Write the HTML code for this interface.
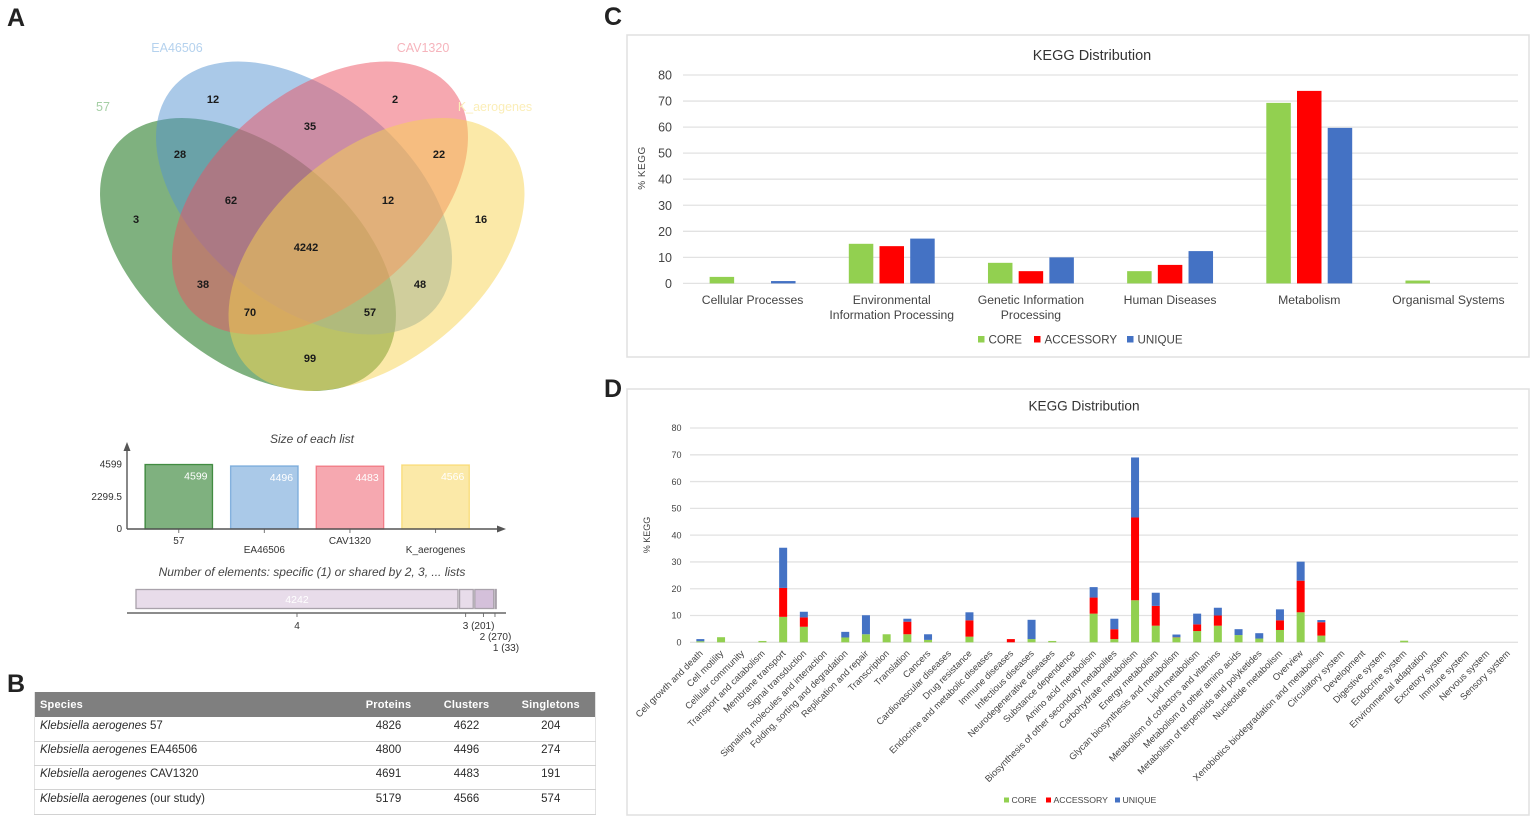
<!DOCTYPE html>
<html lang="en">
<head>
<meta charset="utf-8">
<title>Klebsiella aerogenes pangenome figure</title>
<style>
html,body{margin:0;padding:0;background:#fff;}
body{width:1535px;height:821px;overflow:hidden;position:relative;font-family:"Liberation Sans",sans-serif;}
svg{position:absolute;left:0;top:0;filter:blur(.35px);}
text{font-family:"Liberation Sans",sans-serif;}
#species-table{position:absolute;left:34px;top:692px;width:561px;height:122px;border-collapse:collapse;table-layout:fixed;font-size:11.5px;color:#2b2b2b;filter:blur(.35px);}
#species-table th{background:#7f7f7f;color:#fff;font-weight:bold;height:25px;padding:0;font-size:11px;vertical-align:middle;letter-spacing:.2px;}
#species-table td{height:24.3px;padding:0 0 6.5px 0;box-sizing:border-box;border-bottom:1.5px solid #d2d2d2;text-align:center;vertical-align:middle;}
#species-table th:first-child,#species-table td:first-child{text-align:left;padding-left:5px;}
#species-table{border-left:1px solid #e2e2e2;border-right:1px solid #e2e2e2;}
</style>
</head>
<body>
<svg id="fig" width="1535" height="821" viewBox="0 0 1535 821" xmlns="http://www.w3.org/2000/svg">
  <g font-weight="bold" font-size="25" fill="#222">
    <text x="7" y="26">A</text>
    <text x="7" y="692">B</text>
    <text x="604" y="25">C</text>
    <text x="604" y="397">D</text>
  </g>
  <g>
    <text x="103" y="111" font-size="12.5" text-anchor="middle" fill="#a5cfa5">57</text>
    <text x="177" y="52" font-size="12.5" text-anchor="middle" fill="#b5d2ee">EA46506</text>
    <text x="423" y="52" font-size="12.5" text-anchor="middle" fill="#f6b4bc">CAV1320</text>
    <ellipse cx="248" cy="254.5" rx="171.5" ry="105.4" transform="rotate(39.85 248 254.5)" fill="rgb(0,100,0)" fill-opacity=".5"/>
    <ellipse cx="304" cy="198" rx="171.5" ry="105.4" transform="rotate(39.85 304 198)" fill="rgb(85,147,209)" fill-opacity=".5"/>
    <ellipse cx="320" cy="198" rx="171.5" ry="105.4" transform="rotate(-39.85 320 198)" fill="rgb(237,81,97)" fill-opacity=".5"/>
    <ellipse cx="376.5" cy="254.5" rx="171.5" ry="105.4" transform="rotate(-39.85 376.5 254.5)" fill="rgb(247,211,81)" fill-opacity=".5"/>
    <text x="495" y="111" font-size="12.5" text-anchor="middle" fill="#fbeeb8">K_aerogenes</text>
    <g font-size="11" font-weight="bold" text-anchor="middle" fill="#1a1a1a">
      <text x="213" y="103">12</text>
      <text x="395" y="103">2</text>
      <text x="310" y="130">35</text>
      <text x="180" y="158">28</text>
      <text x="439" y="158">22</text>
      <text x="231" y="204">62</text>
      <text x="388" y="204">12</text>
      <text x="136" y="223">3</text>
      <text x="481" y="223">16</text>
      <text x="306" y="251">4242</text>
      <text x="203" y="288">38</text>
      <text x="420" y="288">48</text>
      <text x="250" y="316">70</text>
      <text x="370" y="316">57</text>
      <text x="310" y="362">99</text>
    </g>
  </g>
  <g id="list-size"></g>
  <g id="shared-count"></g>
  <rect x="627" y="35" width="902" height="322" fill="#fff" stroke="#e0e0e0" stroke-width="1.5"/>
  <g id="chart-c"></g>
  <rect x="627" y="389" width="902" height="426" fill="#fff" stroke="#e0e0e0" stroke-width="1.5"/>
  <g id="chart-d"></g>
</svg>

<table id="species-table">
  <colgroup><col style="width:316px"><col style="width:76px"><col style="width:80px"><col style="width:89px"></colgroup>
  <thead>
    <tr><th>Species</th><th>Proteins</th><th>Clusters</th><th>Singletons</th></tr>
  </thead>
  <tbody>
    <tr><td><i>Klebsiella aerogenes</i> 57</td><td>4826</td><td>4622</td><td>204</td></tr>
    <tr><td><i>Klebsiella aerogenes</i> EA46506</td><td>4800</td><td>4496</td><td>274</td></tr>
    <tr><td><i>Klebsiella aerogenes</i> CAV1320</td><td>4691</td><td>4483</td><td>191</td></tr>
    <tr><td><i>Klebsiella aerogenes</i> (our study)</td><td>5179</td><td>4566</td><td>574</td></tr>
  </tbody>
</table>

<script>
/* ---------- Panel A: list sizes ---------- */
const listNames = ['57', 'EA46506', 'CAV1320', 'K_aerogenes'];
const listSizes = [4599, 4496, 4483, 4566];
const listTicks = [0, 2299.5, 4599];
const listFills = ['rgb(0,100,0)', 'rgb(85,147,209)', 'rgb(237,81,97)', 'rgb(247,211,81)'];

/* ---------- Panel A: shared elements ---------- */
const sharedLabels = ['4', '3 (201)', '2 (270)', '1 (33)'];
const sharedValues = [4242, 201, 270, 33];

/* ---------- Panel C ---------- */
const categoriesC = [['Cellular Processes'], ['Environmental', 'Information Processing'], ['Genetic Information', 'Processing'], ['Human Diseases'], ['Metabolism'], ['Organismal Systems']];
const coreC = [2.5, 15.2, 7.9, 4.7, 69.3, 1.1];
const accessoryC = [0, 14.3, 4.7, 7.1, 73.9, 0];
const uniqueC = [0.9, 17.2, 10, 12.4, 59.7, 0];
const ticksC = [0, 10, 20, 30, 40, 50, 60, 70, 80];

/* ---------- Panel D ---------- */
const categoriesD = ['Cell growth and death', 'Cell motility', 'Cellular community', 'Transport and catabolism', 'Membrane transport', 'Signal transduction', 'Signaling molecules and interaction', 'Folding, sorting and degradation', 'Replication and repair', 'Transcription', 'Translation', 'Cancers', 'Cardiovascular diseases', 'Drug resistance', 'Endocrine and metabolic diseases', 'Immune diseases', 'Infectious diseases', 'Neurodegenerative diseases', 'Substance dependence', 'Amino acid metabolism', 'Biosynthesis of other secondary metabolites', 'Carbohydrate metabolism', 'Energy metabolism', 'Glycan biosynthesis and metabolism', 'Lipid metabolism', 'Metabolism of cofactors and vitamins', 'Metabolism of other amino acids', 'Metabolism of terpenoids and polyketides', 'Nucleotide metabolism', 'Overview', 'Xenobiotics biodegradation and metabolism', 'Circulatory system', 'Development', 'Digestive system', 'Endocrine system', 'Environmental adaptation', 'Excretory system', 'Immune system', 'Nervous system', 'Sensory system'];
const coreD = [0.4, 1.9, 0, 0.5, 9.5, 5.8, 0, 1.8, 3, 3, 3, 0.9, 0, 2.1, 0, 0, 1.2, 0.5, 0, 10.7, 1.2, 15.7, 6.2, 1.8, 4.2, 6.2, 2.7, 1.4, 4.6, 11.2, 2.5, 0, 0, 0, 0.6, 0, 0, 0, 0, 0];
const accessoryD = [0, 0, 0, 0, 10.8, 3.5, 0, 0, 0, 0, 4.7, 0, 0, 6.1, 0, 1.2, 0, 0, 0, 6, 3.7, 30.9, 7.4, 0.1, 2.5, 3.8, 0, 0, 3.6, 11.8, 5, 0, 0, 0, 0, 0, 0, 0, 0, 0];
const uniqueD = [0.8, 0, 0, 0, 15, 2.1, 0, 2.1, 7.1, 0, 1.1, 2.1, 0, 3, 0, 0, 7.2, 0, 0, 3.9, 3.9, 22.4, 4.9, 1, 4, 2.9, 2.2, 2, 4.1, 7.1, 0.8, 0, 0, 0, 0, 0, 0, 0, 0, 0];
const ticksD = [0, 10, 20, 30, 40, 50, 60, 70, 80];

const seriesNames = ['CORE', 'ACCESSORY', 'UNIQUE'];
const seriesColors = ['#92d050', '#ff0000', '#4472c4'];

const NS = 'http://www.w3.org/2000/svg';
function make(parent, tag, attrs, txt) {
  const el = document.createElementNS(NS, tag);
  for (const k in attrs) el.setAttribute(k, attrs[k]);
  if (txt !== undefined) el.textContent = txt;
  parent.appendChild(el);
  return el;
}
function slug(s) { return String(s).toLowerCase().replace(/[^a-z0-9]+/g, '-').replace(/^-|-$/g, ''); }

/* List size chart */
(function () {
  const g = document.getElementById('list-size');
  const y = v => 529 - v * (64.5 / 4599);
  const x = i => 145 + i * 85.6;
  const barW = 67.5;
  const title = make(g, 'text', {x: 312, y: 443, 'font-size': 12, 'font-style': 'italic', 'text-anchor': 'middle', fill: '#444'}, 'Size of each list');
  
  
  listSizes.forEach((v, i) => {
    const bar = make(g, 'rect', {x: x(i), y: y(v), width: barW, height: 529 - y(v), fill: listFills[i], 'fill-opacity': .5, stroke: listFills[i], 'stroke-opacity': .65, 'stroke-width': 1.3});
    
    
    const val = make(g, 'text', {x: x(i) + barW - 5, y: y(v) + 15, 'font-size': 10.5, 'text-anchor': 'end', fill: '#fff'}, v);
    
    
    const tick = make(g, 'line', {x1: x(i) + barW / 2, x2: x(i) + barW / 2, y1: 529, y2: 533, stroke: '#777'});
    
    
    const lab = make(g, 'text', {x: x(i) + barW / 2, y: i % 2 ? 553 : 544, 'font-size': 10, 'text-anchor': 'middle', fill: '#333'}, listNames[i]);
    
    
  });
  listTicks.forEach(t => {
    const lab = make(g, 'text', {x: 122, y: y(t) + 3, 'font-size': 10, 'text-anchor': 'end', fill: '#333'}, t);
    
    
  });
  const yAxis = make(g, 'path', {d: 'M127 529V446', stroke: '#555', 'stroke-width': 1.4, fill: 'none'});
  
  
  const xAxis = make(g, 'path', {d: 'M127 529H500', stroke: '#555', 'stroke-width': 1.4, fill: 'none'});
  
  
  const arrows = make(g, 'path', {d: 'M127 442l-3.5 9h7zM506 529l-9-3.5v7z', fill: '#555'});
  
  
})();

/* Shared elements strip */
(function () {
  const g = document.getElementById('shared-count');
  const scale = 0.0759;
  const gap = 1.6;
  const title = make(g, 'text', {x: 312, y: 576, 'font-size': 12, 'font-style': 'italic', 'text-anchor': 'middle', fill: '#444'}, 'Number of elements: specific (1) or shared by 2, 3, ... lists');
  
  
  const fills = ['#e8dcea', '#e8dcea', '#d4c0da', '#d4c0da'];
  let cursor = 136;
  const labelY = [629, 640, 651];
  sharedValues.forEach((v, i) => {
    const w = v * scale;
    const inset = i === 0 ? 0 : gap;
    const seg = make(g, 'rect', {x: cursor + inset, y: 589.5, width: Math.max(w - inset, 0.8), height: 19, fill: fills[i], stroke: '#a9a2ab', 'stroke-width': 1.3});
    
    
    const mid = cursor + w / 2;
    const tick = make(g, 'line', {x1: mid, x2: mid, y1: 613, y2: 617, stroke: '#777'});
    
    
    const isFirst = i === 0;
    const lab = make(g, 'text', {x: isFirst ? mid : mid + 13 - (i - 1), y: isFirst ? 629 : labelY[i - 1], 'font-size': 10, 'text-anchor': 'middle', fill: '#333'}, sharedLabels[i]);
    
    
    if (isFirst) {
      const val = make(g, 'text', {x: mid, y: 603, 'font-size': 10.5, 'text-anchor': 'middle', fill: '#fff'}, v);
      
      
    }
    cursor += w;
  });
  const axis = make(g, 'line', {x1: 127, x2: 506, y1: 613, y2: 613, stroke: '#666', 'stroke-width': 1.6});
  
  
})();

/* Chart C */
(function () {
  const g = document.getElementById('chart-c');
  const left = 683, right = 1518, y0 = 283.4, yTop = 75;
  const y = v => y0 - v * (y0 - yTop) / 80;
  const step = (right - left) / categoriesC.length;
  const cx = i => left + step * (i + .5);
  const title = make(g, 'text', {x: 1092, y: 60, 'font-size': 14.5, 'text-anchor': 'middle', fill: '#333'}, 'KEGG Distribution');
  
  
  ticksC.forEach(t => {
    const line = make(g, 'line', {x1: left, x2: right, y1: y(t), y2: y(t), stroke: '#e2e2e2', 'stroke-width': 1.3});
    
    
    const lab = make(g, 'text', {x: 672, y: y(t) + 4.5, 'font-size': 12.5, 'text-anchor': 'end', fill: '#444'}, t);
    
    
  });
  const yTitle = make(g, 'text', {x: 0, y: 0, 'font-size': 10, 'text-anchor': 'middle', fill: '#444', 'letter-spacing': .5, transform: 'translate(645,168) rotate(-90)'}, '% KEGG');
  
  
  const series = [coreC, accessoryC, uniqueC];
  const w = 24.5, off = 30.7;
  series.forEach((vals, s) => {
    vals.forEach((v, i) => {
      if (v <= 0) return;
      const bar = make(g, 'rect', {x: cx(i) + (s - 1) * off - w / 2, y: y(v), width: w, height: y0 - y(v), fill: seriesColors[s]});
      
      
    });
  });
  categoriesC.forEach((lines, i) => {
    lines.forEach((ln, k) => {
      const lab = make(g, 'text', {x: cx(i), y: 304 + k * 15, 'font-size': 12.2, 'text-anchor': 'middle', fill: '#444'}, ln);
      
      
    });
  });
  const legendX = [978, 1034, 1127];
  seriesNames.forEach((n, s) => {
    const sw = make(g, 'rect', {x: legendX[s], y: 336, width: 6.5, height: 6.5, fill: seriesColors[s]});
    
    
    const t = make(g, 'text', {x: legendX[s] + 10.5, y: 343.5, 'font-size': 11.6, fill: '#444'}, n);
    
    
  });
})();

/* Chart D */
(function () {
  const g = document.getElementById('chart-d');
  const left = 690, right = 1518, y0 = 642.3, yTop = 428;
  const y = v => y0 - v * (y0 - yTop) / 80;
  const step = (right - left) / categoriesD.length;
  const cx = i => left + step * (i + .5);
  const title = make(g, 'text', {x: 1084, y: 410.5, 'font-size': 13.6, 'text-anchor': 'middle', fill: '#333'}, 'KEGG Distribution');
  
  
  ticksD.forEach(t => {
    const line = make(g, 'line', {x1: left, x2: right, y1: y(t), y2: y(t), stroke: '#e2e2e2', 'stroke-width': 1.3});
    
    
    const lab = make(g, 'text', {x: 681.5, y: y(t) + 3.2, 'font-size': 9, 'text-anchor': 'end', fill: '#444'}, t);
    
    
  });
  const yTitle = make(g, 'text', {x: 0, y: 0, 'font-size': 9, 'text-anchor': 'middle', fill: '#444', transform: 'translate(650,535) rotate(-90)'}, '% KEGG');
  
  
  const w = 8;
  categoriesD.forEach((name, i) => {
    let acc = 0;
    [coreD, accessoryD, uniqueD].forEach((vals, s) => {
      const v = vals[i];
      if (v > 0) {
        const bar = make(g, 'rect', {x: cx(i) - w / 2, y: y(acc + v), width: w, height: y(acc) - y(acc + v), fill: seriesColors[s]});
        
        
      }
      acc += v;
    });
    const lab = make(g, 'text', {x: 0, y: 0, 'font-size': 9.3, 'text-anchor': 'end', fill: '#444', transform: 'translate(' + (cx(i) + 3) + ',654) rotate(-45)'}, name);
    
    
  });
  const legendX = [1004, 1046, 1115];
  seriesNames.forEach((n, s) => {
    const sw = make(g, 'rect', {x: legendX[s], y: 797.5, width: 5, height: 5, fill: seriesColors[s]});
    
    
    const t = make(g, 'text', {x: legendX[s] + 7.5, y: 803.2, 'font-size': 8.7, fill: '#444'}, n);
    
    
  });
})();
</script>
</body>
</html>
